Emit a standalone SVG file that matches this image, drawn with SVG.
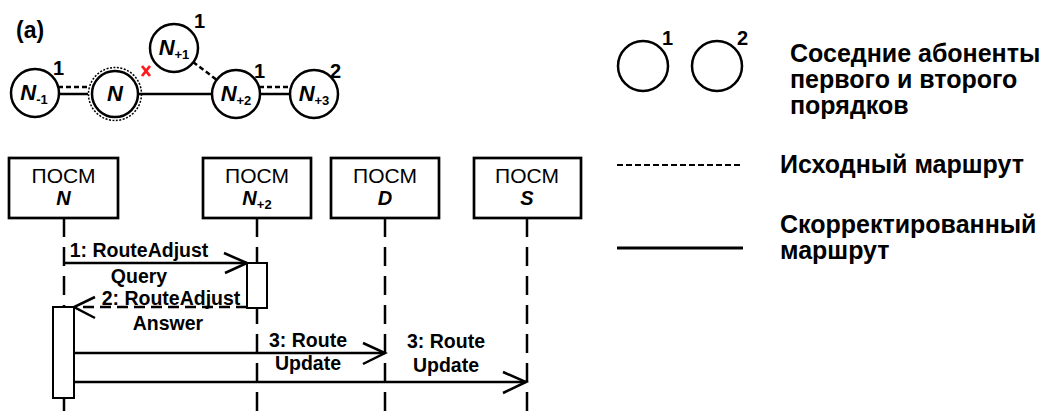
<svg xmlns="http://www.w3.org/2000/svg" width="1048" height="414" viewBox="0 0 1048 414">
<defs>
<style>
.bg{fill:#ffffff}
.nd{fill:#ffffff;stroke:#000;stroke-width:2.5}
.ring{fill:none;stroke:#000;stroke-width:1.5;stroke-dasharray:2 1.5}
.sol{stroke:#000;stroke-width:2.5;fill:none}
.dsh{stroke:#000;stroke-width:2.5;fill:none;stroke-dasharray:5 3}
.nl{font-family:"Liberation Sans",Arial,sans-serif;font-weight:bold;font-style:italic;font-size:22px;fill:#000}
.sub{font-size:13px;font-style:normal}
.num{font-family:"Liberation Sans",Arial,sans-serif;font-weight:bold;font-size:20px;fill:#000}
.tag{font-family:"Liberation Sans",Arial,sans-serif;font-weight:bold;font-size:23px;fill:#000}
.box{fill:#ffffff;stroke:#000;stroke-width:2.7}
.bt{font-family:"Liberation Sans",Arial,sans-serif;font-size:21px;fill:#000}
.bi{font-family:"Liberation Sans",Arial,sans-serif;font-weight:bold;font-style:italic;font-size:20px;fill:#000}
.life{stroke:#000;stroke-width:2.5;stroke-dasharray:19 10;fill:none}
.act{fill:#ffffff;stroke:#000;stroke-width:2}
.msg{stroke:#000;stroke-width:2.5;fill:none}
.ret{stroke:#000;stroke-width:2.5;fill:none;stroke-dasharray:11 6}
.ah{stroke:#000;stroke-width:2.5;fill:none}
.ml{font-family:"Liberation Sans",Arial,sans-serif;font-weight:bold;font-size:19.5px;fill:#000;text-anchor:middle}
.lg{font-family:"Liberation Sans",Arial,sans-serif;font-weight:bold;font-size:25px;fill:#000}
</style>
</defs>
<rect class="bg" x="0" y="0" width="1048" height="414"/>

<text class="tag" x="16" y="38">(a)</text>

<g id="graph-edges">
<line class="dsh" x1="58" y1="87" x2="89" y2="87"/>
<line class="sol" x1="59" y1="94" x2="88" y2="94"/>
<line class="sol" x1="138" y1="94" x2="212" y2="94"/>
<line class="dsh" x1="259" y1="87" x2="291" y2="87"/>
<line class="sol" x1="260" y1="94" x2="290" y2="94"/>
<line class="dsh" x1="193" y1="62" x2="217" y2="80"/>
</g>

<g id="node-Nm1">
<circle class="nd" cx="35" cy="93" r="24"/>
<text class="nl" x="34" y="100" text-anchor="middle">N<tspan class="sub" dy="4">-1</tspan></text>
<text class="num" x="53" y="75">1</text>
</g>
<g id="node-N">
<circle class="ring" cx="115" cy="94" r="26.5"/>
<circle class="nd" cx="115" cy="94" r="23"/>
<text class="nl" x="115" y="101" text-anchor="middle">N</text>
</g>
<g id="node-Np1">
<circle class="nd" cx="174" cy="48" r="24"/>
<text class="nl" x="174" y="55" text-anchor="middle">N<tspan class="sub" dy="4">+1</tspan></text>
<text class="num" x="194" y="28">1</text>
</g>
<g id="node-Np2">
<circle class="nd" cx="236" cy="94" r="24"/>
<text class="nl" x="236" y="101" text-anchor="middle">N<tspan class="sub" dy="4">+2</tspan></text>
<text class="num" x="254" y="78">1</text>
</g>
<g id="node-Np3">
<circle class="nd" cx="314" cy="94" r="24"/>
<text class="nl" x="314" y="101" text-anchor="middle">N<tspan class="sub" dy="4">+3</tspan></text>
<text class="num" x="330" y="78">2</text>
</g>
<g id="break-mark">
<line x1="142" y1="66" x2="150" y2="76" stroke="#ff1a1a" stroke-width="2.8"/>
<line x1="150" y1="66" x2="142" y2="76" stroke="#ff1a1a" stroke-width="2.8"/>
</g>

<g id="lifelines">
<line class="life" x1="64" y1="218" x2="64" y2="414"/>
<line class="life" x1="257" y1="218" x2="257" y2="414"/>
<line class="life" x1="385" y1="218" x2="385" y2="414"/>
<line class="life" x1="527" y1="218" x2="527" y2="414"/>
</g>

<g id="lane-N">
<rect class="box" x="9" y="158" width="109" height="60"/>
<text class="bt" x="63.5" y="183" text-anchor="middle">ПОСМ</text>
<text class="bi" x="63.5" y="205" text-anchor="middle">N</text>
</g>
<g id="lane-Np2">
<rect class="box" x="203" y="158" width="108" height="60"/>
<text class="bt" x="257" y="183" text-anchor="middle">ПОСМ</text>
<text class="bi" x="257" y="205" text-anchor="middle">N<tspan class="sub" dy="4">+2</tspan></text>
</g>
<g id="lane-D">
<rect class="box" x="331" y="158" width="108" height="60"/>
<text class="bt" x="385" y="183" text-anchor="middle">ПОСМ</text>
<text class="bi" x="385" y="205" text-anchor="middle">D</text>
</g>
<g id="lane-S">
<rect class="box" x="474" y="158" width="107" height="60"/>
<text class="bt" x="527" y="183" text-anchor="middle">ПОСМ</text>
<text class="bi" x="527" y="205" text-anchor="middle">S</text>
</g>

<g id="activations">
<rect class="act" x="247" y="263" width="20" height="45"/>
<rect class="act" x="53" y="307" width="21" height="91"/>
</g>

<g id="messages">
<line class="msg" x1="64" y1="263" x2="247" y2="263"/>
<polyline class="ah" points="224,253 247,263 225,273"/>
<line class="ret" x1="247" y1="307" x2="75" y2="307"/>
<polyline class="ah" points="95,297 74,307 95,318"/>
<line class="msg" x1="74" y1="353" x2="385" y2="353"/>
<polyline class="ah" points="363,343 385,353 363,364"/>
<line class="msg" x1="74" y1="382" x2="526" y2="382"/>
<polyline class="ah" points="503,372 526,382 503,393"/>
</g>

<g id="message-labels">
<text class="ml" x="139" y="257">1: RouteAdjust</text>
<text class="ml" x="139" y="283">Query</text>
<text class="ml" x="171" y="305">2: RouteAdjust</text>
<text class="ml" x="168" y="330">Answer</text>
<text class="ml" x="308" y="347">3: Route</text>
<text class="ml" x="308" y="370">Update</text>
<text class="ml" x="446" y="348">3: Route</text>
<text class="ml" x="446" y="372">Update</text>
</g>

<g id="legend-neighbours">
<circle class="nd" cx="643" cy="66" r="25"/>
<circle class="nd" cx="717" cy="66" r="25"/>
<text class="num" x="662" y="45">1</text>
<text class="num" x="737" y="45">2</text>
<text class="lg" x="790" y="62">Соседние абоненты</text>
<text class="lg" x="790" y="88">первого и второго</text>
<text class="lg" x="790" y="114">порядков</text>
</g>
<g id="legend-original">
<line x1="617" y1="165" x2="743" y2="165" stroke="#000" stroke-width="2" stroke-dasharray="6 3"/>
<text class="lg" x="780" y="173">Исходный маршрут</text>
</g>
<g id="legend-corrected">
<line x1="617" y1="248" x2="743" y2="248" stroke="#000" stroke-width="3"/>
<text class="lg" x="780" y="233">Скорректированный</text>
<text class="lg" x="780" y="259">маршрут</text>
</g>
</svg>
